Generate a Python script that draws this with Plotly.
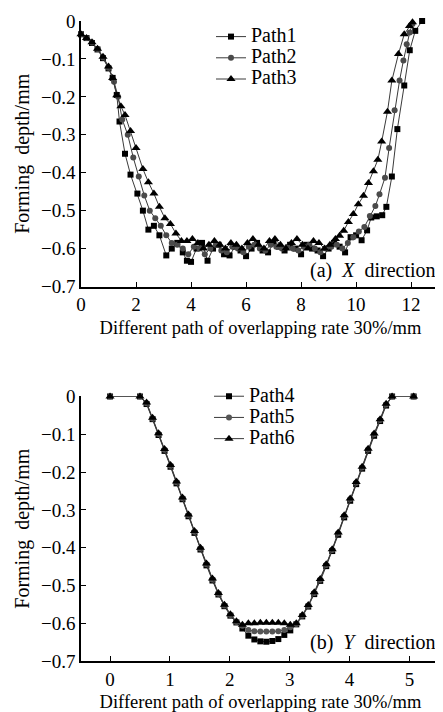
import plotly.graph_objects as go
from plotly.subplots import make_subplots

# ---- (a) X direction ----
p1_x = [0.0, 0.2, 0.4, 0.6, 0.8, 1.0, 1.15, 1.3, 1.4, 1.6, 1.8, 2.05, 2.25, 2.45, 2.65, 2.85, 3.1, 3.3, 3.5, 3.7, 3.85, 4.0,
        4.2, 4.4, 4.6, 4.8, 5.0, 5.2, 5.4, 5.6, 5.8, 6.0, 6.2, 6.4, 6.6, 6.8, 7.0, 7.2, 7.4, 7.6, 7.8, 8.0, 8.2, 8.4,
        8.6, 8.8, 9.0, 9.2, 9.4, 9.6, 9.8, 10.0, 10.2, 10.4, 10.55, 10.75, 10.95, 11.1, 11.3, 11.5, 11.75, 11.95,
        12.15, 12.4]
p1_y = [-0.035, -0.045, -0.058, -0.075, -0.098, -0.125, -0.15, -0.195, -0.265, -0.35, -0.405, -0.455, -0.5, -0.55,
        -0.54, -0.565, -0.618, -0.6, -0.585, -0.61, -0.632, -0.635, -0.6, -0.585, -0.632, -0.6, -0.59, -0.615,
        -0.618, -0.595, -0.605, -0.62, -0.6, -0.585, -0.605, -0.61, -0.585, -0.595, -0.605, -0.59, -0.6, -0.615,
        -0.59, -0.6, -0.605, -0.62, -0.6, -0.585, -0.595, -0.61, -0.57, -0.565, -0.578, -0.552, -0.518, -0.515,
        -0.512, -0.49, -0.41, -0.285, -0.17, -0.077, -0.026, 0.0]

p2_x = [0.0, 0.2, 0.4, 0.6, 0.8, 1.0, 1.2, 1.35, 1.5, 1.7, 1.9, 2.1, 2.3, 2.5, 2.7, 2.9, 3.1, 3.3, 3.5, 3.7, 3.9, 4.1,
        4.3, 4.5, 4.7, 4.9, 5.1, 5.3, 5.5, 5.7, 5.9, 6.1, 6.3, 6.5, 6.7, 6.9, 7.1, 7.3, 7.5, 7.7, 7.9, 8.1, 8.3, 8.5,
        8.7, 8.9, 9.1, 9.3, 9.5, 9.7, 9.9, 10.1, 10.3, 10.5, 10.7, 10.85, 11.05, 11.2, 11.4, 11.58, 11.72, 11.84,
        11.95, 12.05]
p2_y = [-0.035, -0.045, -0.057, -0.074, -0.096, -0.123, -0.16, -0.2, -0.26, -0.3, -0.36, -0.41, -0.46, -0.5, -0.52,
        -0.54, -0.565, -0.585, -0.59, -0.6, -0.615, -0.595, -0.6, -0.615, -0.6, -0.59, -0.605, -0.61, -0.595, -0.6,
        -0.61, -0.595, -0.59, -0.6, -0.605, -0.59, -0.595, -0.6, -0.595, -0.6, -0.605, -0.595, -0.59, -0.6, -0.61,
        -0.6, -0.595, -0.59, -0.6, -0.585, -0.57, -0.555, -0.543, -0.514, -0.488, -0.457, -0.413, -0.335, -0.235,
        -0.157, -0.104, -0.061, -0.03, -0.008]

p3_x = [0.0, 0.2, 0.4, 0.6, 0.8, 1.0, 1.15, 1.3, 1.45, 1.6, 1.8, 2.0, 2.25, 2.45, 2.65, 2.85, 3.05, 3.25, 3.45, 3.65,
        3.85, 4.05, 4.25, 4.45, 4.65, 4.85, 5.05, 5.25, 5.45, 5.65, 5.85, 6.05, 6.25, 6.45, 6.65, 6.85, 7.05, 7.25,
        7.45, 7.65, 7.85, 8.05, 8.25, 8.45, 8.65, 8.85, 9.05, 9.25, 9.4, 9.55, 9.72, 9.9, 10.08, 10.27, 10.45, 10.63,
        10.79, 10.93, 11.14, 11.3, 11.54, 11.75, 11.94, 12.05]
p3_y = [-0.035, -0.045, -0.056, -0.073, -0.094, -0.12, -0.15, -0.196, -0.225, -0.248, -0.29, -0.335, -0.39, -0.425,
        -0.455, -0.49, -0.52, -0.535, -0.56, -0.58, -0.58, -0.575, -0.585, -0.6, -0.59, -0.58, -0.59, -0.6, -0.585,
        -0.59, -0.6, -0.585, -0.575, -0.59, -0.6, -0.58, -0.575, -0.59, -0.6, -0.585, -0.575, -0.59, -0.6, -0.58,
        -0.585, -0.6, -0.59, -0.575, -0.566, -0.553, -0.53, -0.509, -0.483, -0.461, -0.427, -0.396, -0.366, -0.318,
        -0.239, -0.157, -0.087, -0.035, -0.013, -0.003]

# ---- (b) Y direction ----
yb_x = [0.0, 0.5, 0.61, 0.71, 0.81, 0.91, 1.01, 1.11, 1.21, 1.31, 1.41, 1.51, 1.61, 1.71, 1.81, 1.91, 2.01, 2.11,
        2.21, 2.31, 2.41, 2.51, 2.61, 2.71, 2.81, 2.91, 3.01, 3.11, 3.21, 3.31, 3.41, 3.51, 3.61, 3.71, 3.81, 3.91,
        4.01, 4.11, 4.21, 4.31, 4.41, 4.51, 4.61, 4.71, 5.07]
p4_y = [0.0, 0.0, -0.02, -0.06, -0.102, -0.144, -0.186, -0.23, -0.272, -0.317, -0.361, -0.405, -0.447, -0.487,
        -0.524, -0.555, -0.58, -0.598, -0.614, -0.633, -0.643, -0.648, -0.649, -0.647, -0.642, -0.631, -0.619,
        -0.603, -0.582, -0.556, -0.523, -0.488, -0.449, -0.409, -0.366, -0.32, -0.276, -0.232, -0.191, -0.144,
        -0.104, -0.065, -0.024, 0.0, 0.0]
p5_y = [0.0, 0.0, -0.018, -0.058, -0.099, -0.141, -0.183, -0.227, -0.269, -0.314, -0.358, -0.402, -0.444, -0.484,
        -0.522, -0.553, -0.578, -0.597, -0.607, -0.618, -0.621, -0.622, -0.622, -0.622, -0.621, -0.618, -0.611,
        -0.602, -0.58, -0.554, -0.52, -0.485, -0.446, -0.406, -0.362, -0.316, -0.272, -0.228, -0.188, -0.14,
        -0.1, -0.062, -0.021, 0.0, 0.0]
p6_y = [0.0, 0.0, -0.016, -0.056, -0.097, -0.139, -0.181, -0.225, -0.267, -0.312, -0.356, -0.4, -0.442, -0.482,
        -0.52, -0.551, -0.576, -0.595, -0.604, -0.6, -0.6, -0.599, -0.599, -0.599, -0.599, -0.6, -0.604, -0.6,
        -0.578, -0.552, -0.518, -0.483, -0.444, -0.404, -0.36, -0.314, -0.27, -0.226, -0.186, -0.138, -0.098,
        -0.06, -0.019, 0.0, 0.0]

yticks = [0, -0.1, -0.2, -0.3, -0.4, -0.5, -0.6, -0.7]
xticks_a = [0, 2, 4, 6, 8, 10, 12]
xticks_b = [0, 1, 2, 3, 4, 5]

FONT = "Liberation Serif"
LINE = "#3a3a3a"

fig = make_subplots(rows=2, cols=1, vertical_spacing=0.0)


def add(x, y, name, symbol, color, size, legend, row):
    fig.add_trace(go.Scatter(
        x=x, y=y, name='<span style="font-size:20px">%s</span>' % name, mode="lines+markers",
        line=dict(color=LINE, width=1),
        marker=dict(symbol=symbol, color=color, size=size, line=dict(width=0)),
        cliponaxis=False, legend=legend), row=row, col=1)


add(p1_x, p1_y, "Path1", "square", "#000000", 6, "legend", 1)
add(p2_x, p2_y, "Path2", "circle", "#4a4a4a", 6, "legend", 1)
add(p3_x, p3_y, "Path3", "triangle-up", "#000000", 8, "legend", 1)
add(yb_x, p4_y, "Path4", "square", "#000000", 6, "legend2", 2)
add(yb_x, p5_y, "Path5", "circle", "#555555", 6, "legend2", 2)
add(yb_x, p6_y, "Path6", "triangle-up", "#000000", 8, "legend2", 2)

axis_common = dict(showline=True, linecolor="black", linewidth=1.5, ticks="inside", ticklen=5,
                   tickwidth=1.3, tickcolor="black", showgrid=False, zeroline=False,
                   tickfont=dict(family=FONT, size=19, color="black"))

fig.update_xaxes(**axis_common)
fig.update_yaxes(**axis_common)

# the page shows the figure offset by the 8 px body margin, so the figure is 8 px smaller
W, H = 435, 704
top = (661 - 283) / 646
bot = (661 - 394) / 646

xt_font = dict(family=FONT, size=18.5, color="black")
yt_font = dict(family=FONT, size=20, color="black")
fig.update_layout(
    xaxis=dict(domain=[0, 1], range=[0, 13.05], tickvals=xticks_a,
               title=dict(text="Different path of overlapping rate 30%/mm", font=xt_font, standoff=7)),
    yaxis=dict(domain=[top, 1], range=[-0.7, 0], tickvals=yticks,
               title=dict(text="Forming\u00a0 depth/mm", font=yt_font, standoff=6)),
    xaxis2=dict(domain=[0, 1], range=[-0.485, 5.51], tickvals=xticks_b,
                title=dict(text="Different path of overlapping rate 30%/mm", font=xt_font, standoff=7)),
    yaxis2=dict(domain=[0, bot], range=[-0.7, 0], tickvals=yticks,
                title=dict(text="Forming\u00a0 depth/mm", font=yt_font, standoff=6)),
)

legend_common = dict(font=dict(family=FONT, size=14, color="black"), bgcolor="rgba(0,0,0,0)",
                     borderwidth=0, tracegroupgap=0, itemwidth=30, xanchor="left", yanchor="top")
fig.update_layout(
    legend=dict(x=(211 - 81) / 359, y=(661 - 15) / 646, **legend_common),
    legend2=dict(x=(209 - 81) / 359, y=(661 - 378) / 646, **legend_common),
)

fig.add_annotation(text="(a)\u00a0 <i>X</i>\u00a0 direction", xref="paper", yref="paper",
                   x=(438 - 81) / 359, y=(661 - 267) / 646, xanchor="right", yanchor="middle",
                   showarrow=False, font=dict(family=FONT, size=20, color="black"))
fig.add_annotation(text="(b)\u00a0 <i>Y</i>\u00a0 direction", xref="paper", yref="paper",
                   x=(438 - 81) / 359, y=(661 - 642) / 646, xanchor="right", yanchor="middle",
                   showarrow=False, font=dict(family=FONT, size=20, color="black"))

fig.update_layout(width=W, height=H, margin=dict(l=81 - 8, r=3, t=15 - 8, b=51),
                  plot_bgcolor="white", paper_bgcolor="white", showlegend=True)

fig.write_html("out.html")
